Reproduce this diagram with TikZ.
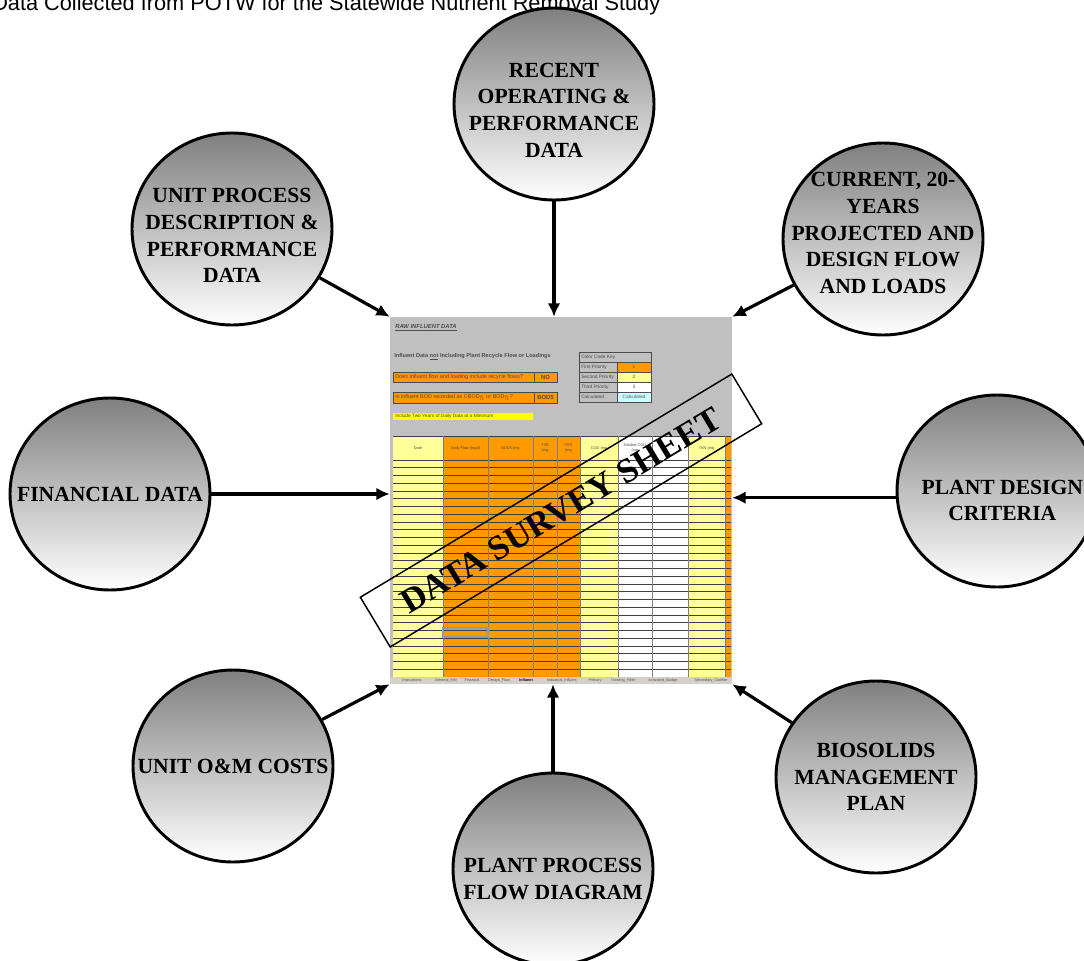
\documentclass[tikz,border=0pt]{standalone}
\usepackage{fontspec}
\setmainfont{Liberation Serif}
\newfontfamily\arialfont{Liberation Sans}
\usetikzlibrary{shapes.geometric,arrows.meta}

\definecolor{xlorange}{HTML}{FF9900}
\definecolor{xlcream}{HTML}{FFFF99}
\definecolor{xlyellow}{HTML}{FFFF00}
\definecolor{xlcyan}{HTML}{CCFFFF}
\definecolor{xlgray}{HTML}{C0C0C0}
\definecolor{xltab}{HTML}{D4D0C8}

\tikzset{
  bubble/.style={ellipse, draw=black, line width=2.2pt, minimum width=150pt,
    minimum height=144pt, top color=black!50, bottom color=white, inner sep=0pt},
  bubbletxt/.style={font=\fontsize{16.2}{20}\selectfont\bfseries, align=center, inner sep=0pt},
  feed/.style={line width=2.4pt, -{Latex[length=10pt,width=9.5pt]}},
  sheetbox/.style={fill=xlgray, minimum width=256.5pt, minimum height=275.25pt, inner sep=0pt},
  celltxt/.style={font=\arialfont\fontsize{3.6}{3.9}\selectfont, text=black!70, inner sep=0pt, align=center},
  hdtxt/.style={celltxt, font=\arialfont\fontsize{2.9}{3.3}\selectfont},
  keycell/.style={draw=black!70, line width=0.5pt},
}

\begin{document}
\begin{tikzpicture}[x=0.75pt, y=-0.75pt]
\useasboundingbox (0,0) rectangle (1084,960);

% title, cut at the top edge
\node[anchor=base west, font=\arialfont\fontsize{16.3}{18}\selectfont, inner sep=0pt] (title) at (-8,10)
  {Data Collected from POTW for the Statewide Nutrient Removal Study};

% the data survey sheet
\node[sheetbox] (sheet) at (561,500.5) {};
\node[celltxt, anchor=west, font=\arialfont\fontsize{4.4}{5}\selectfont\bfseries\itshape] (rawhd) at (395,328)
  {\underline{RAW INFLUENT DATA}};
\node[celltxt, anchor=west, font=\arialfont\fontsize{4.2}{5}\selectfont\bfseries] (infl) at (394,357)
  {Influent Data \underline{not} Including Plant Recycle Flow or Loadings};

% questions
\draw[keycell, fill=xlorange] (393,372) rectangle (534,382) (534,372) rectangle (557,382);
\draw[keycell, fill=xlorange] (393,392) rectangle (534,403) (534,392) rectangle (557,403);
\fill[xlyellow] (393,413) rectangle (533,420);
\node[celltxt, anchor=west, font=\arialfont\fontsize{4.1}{4.5}\selectfont] (q1) at (395,377)
  {Does influent flow and loading include recycle flows?};
\node[celltxt, font=\arialfont\fontsize{4.4}{5}\selectfont\bfseries] (a1) at (545.5,377) {NO};
\node[celltxt, anchor=west, font=\arialfont\fontsize{4.1}{4.5}\selectfont] (q2) at (395,397.5)
  {Is influent BOD recorded as CBOD$_5$ or BOD$_5$?};
\node[celltxt, font=\arialfont\fontsize{4.4}{5}\selectfont\bfseries] (a2) at (545.5,397.5) {BOD5};
\node[celltxt, anchor=west] (q3) at (395,416.5) {Include Two Years of Daily Data at a Minimum};

% colour code key
\draw[keycell] (579,352) rectangle (651,362);
\node[celltxt, anchor=west] (keyhd) at (581,357) {Color Code Key};
\foreach \y/\col/\lab/\val in {362/xlorange/First Priority/1, 372/xlcream/Second Priority/2,
    382/white/Third Priority/3, 392/xlcyan/Calculated/Calculated} {
  \draw[keycell] (579,\y) rectangle (617,\y+10);
  \draw[keycell, fill=\col] (617,\y) rectangle (651,\y+10);
  \node[celltxt, anchor=west] at (581,\y+5) {\lab};
  \node[celltxt] at (634,\y+5) {\val};
}

% influent table
\foreach \xa/\xb/\col in {393/443/xlcream, 443/488/xlorange, 488/533/xlorange, 533/557/xlorange,
    557/580/xlorange, 580/618/xlcream, 618/652/white, 652/688/white, 688/725/xlcream, 725/731/xlorange} {
  \fill[\col] (\xa,436) rectangle (\xb,677);
}
\foreach \y in {436,460,467.75,...,677} {
  \draw[black!75, line width=0.5pt] (393,\y) -- (731,\y);
}
\foreach \x in {443,488,533,557,580,618,652,688,725} {
  \draw[black!50, line width=0.5pt] (\x,436) -- (\x,677);
}
\foreach \x/\lab in {418/Date, 465.5/Daily Flow (mgd), 510.5/BOD5 (mg/L), 545/TSS\\(mg/L),
    568.5/VSS\\(mg/L), 599/COD (mg/L), 635/Soluble COD\\(mg/L), 706.5/TKN (mg/L)} {
  \node[hdtxt] at (\x,448) {\lab};
}
\draw[black!40, line width=0.8pt] (443,628) rectangle (488,637);

% sheet tabs
\fill[xltab] (390,677) rectangle (732,684);
\foreach \x/\lab in {412/Instructions, 446/General\_Info, 472/Financial, 499/Design\_Flow,
    562/Industrial\_Influent, 595/Primary, 623/Trickling\_Filter, 663/Activated\_Sludge,
    711/Secondary\_Clarifier} {
  \node[celltxt, font=\arialfont\fontsize{2.8}{3}\selectfont] at (\x,680.5) {\lab};
}
\node[celltxt, font=\arialfont\fontsize{2.8}{3}\selectfont\bfseries, text=black] (curtab) at (526,680.5) {Influent};

% banner
\node[draw, line width=1.1pt, rotate=31, minimum width=325pt, minimum height=43.5pt, inner sep=0pt,
  font=\fontsize{26}{26}\selectfont\bfseries] (banner) at (561,510.5) {DATA SURVEY SHEET};

% data sources
\node[bubble, label={[bubbletxt, yshift=-4.5pt]center:RECENT\\OPERATING \&\\PERFORMANCE\\DATA}] (recent) at (554,104) {};
\node[bubble, label={[bubbletxt, yshift=-5pt]center:UNIT PROCESS\\DESCRIPTION \&\\PERFORMANCE\\DATA}] (unitproc) at (232,229) {};
\node[bubble, label={[bubbletxt, yshift=4.5pt]center:CURRENT, 20-\\YEARS\\PROJECTED AND\\DESIGN FLOW\\AND LOADS}] (current) at (883,239) {};
\node[bubble, label={[bubbletxt]center:FINANCIAL DATA}] (financial) at (110,494) {};
\node[bubble, label={[bubbletxt, xshift=4pt, yshift=-7pt]center:PLANT DESIGN\\CRITERIA}] (design) at (997,491) {};
\node[bubble, label={[bubbletxt]center:UNIT O\&M COSTS}] (omcost) at (233,766) {};
\node[bubble, label={[bubbletxt, yshift=-7.5pt]center:PLANT PROCESS\\FLOW DIAGRAM}] (pfd) at (553,869) {};
\node[bubble, label={[bubbletxt]center:BIOSOLIDS\\MANAGEMENT\\PLAN}] (biosolids) at (876,777) {};

% arrows into the sheet
\draw[feed] (recent) -- (recent |- sheet.north);
\draw[feed] (unitproc) -- (sheet.north west);
\draw[feed] (current) -- (sheet.north east);
\draw[feed] (financial) -- (financial -| sheet.west);
\draw[feed] ([yshift=-5pt]design.west) -- ([yshift=-5pt]design.west -| sheet.east);
\draw[feed] (omcost) -- (sheet.south west);
\draw[feed] (pfd) -- (pfd |- sheet.south);
\draw[feed] (biosolids) -- (sheet.south east);
\end{tikzpicture}
\end{document}
